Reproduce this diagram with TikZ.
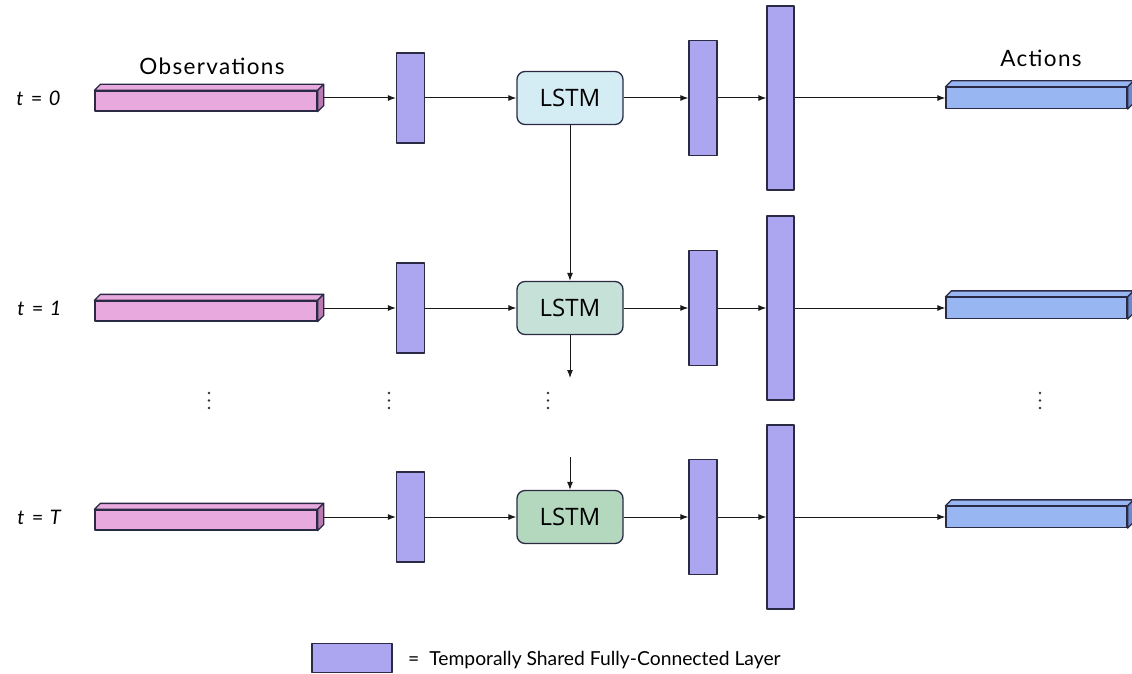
\documentclass[tikz,border=0pt]{standalone}
\usepackage{fontspec}
\setmainfont{Lato}
\newfontfamily\headfont{Lato}[LetterSpace=6]
\newfontfamily\lstmfont{Open Sans}
\usetikzlibrary{arrows.meta}

\definecolor{obsfill}{RGB}{232,170,222}
\definecolor{obsside}{RGB}{186,122,178}
\definecolor{fcfill}{RGB}{172,166,240}
\definecolor{actfill}{RGB}{152,182,242}
\definecolor{actside}{RGB}{108,138,208}
\definecolor{lstmA}{RGB}{212,236,244}
\definecolor{lstmB}{RGB}{198,226,216}
\definecolor{lstmC}{RGB}{180,216,190}
\definecolor{edgecol}{RGB}{42,42,68}

\tikzset{
  outline/.style={draw=edgecol, line width=1.3pt, line join=round},
  fc/.style={outline, fill=fcfill, minimum width=28pt, inner sep=0pt},
  lstm/.style={outline, rounded corners=8pt, minimum width=106pt, minimum height=53pt,
    inner sep=0pt, font=\lstmfont\fontsize{24}{24}\selectfont},
  obsbar/.style={outline, fill=obsfill, minimum width=222pt, minimum height=20pt, inner sep=0pt},
  actbar/.style={outline, fill=actfill, minimum width=181pt, minimum height=21pt, inner sep=0pt},
  flow/.style={-{Latex[length=8pt,width=6pt]}, line width=1pt, draw=black!90},
  steplabel/.style={font=\headfont\fontsize{20}{20}\selectfont},
  headlabel/.style={font=\headfont\fontsize{22.5}{22.5}\selectfont},
  dot/.style={fill=black!80, draw=none, circle, minimum size=2.8pt, inner sep=0pt}
}

\begin{document}
\begin{tikzpicture}[x=1pt,y=-1pt]
  \useasboundingbox[fill=white] (0,0) rectangle (1132,674);

  % time-step labels
  \node[steplabel] (l0) at (39,98)  {\textit{t} = \textit{0}};
  \node[steplabel] (l1) at (40,308) {\textit{t} = \textit{1}};
  \node[steplabel] (lT) at (40,517) {\textit{t} = \textit{T}};

  % headings
  \node[headlabel] (hobs) at (212,66) {Observations};
  \node[headlabel] (hact) at (1041,58) {Actions};

  % one row per time step: observation bar, FC, LSTM, FC, FC, action bar
  \foreach \r/\y/\lc in {0/98/lstmA, 1/308/lstmB, T/517/lstmC}{
    \node[obsbar] (o\r) at (206,\y+3) {};
    \node[fc, minimum height=90pt]  (a\r) at (410.5,\y) {};
    \node[lstm, fill=\lc] (m\r) at (570,\y) {LSTM};
    \node[fc, minimum height=115pt] (b\r) at (703,\y) {};
    \node[fc, minimum height=184pt, minimum width=27pt] (c\r) at (780.5,\y) {};
    \node[actbar] (p\r) at (1036.5,\y) {};
    % 3-D faces of the bars
    \draw[outline, fill=obsfill] (o\r.north west) -- ++(6,-6) -- ([shift={(6,-6)}]o\r.north east) -- (o\r.north east) -- cycle;
    \draw[outline, fill=obsside] (o\r.north east) -- ++(6,-6) -- ([shift={(6,-6)}]o\r.south east) -- (o\r.south east) -- cycle;
    \draw[outline, fill=actfill] (p\r.north west) -- ++(6,-6) -- ([shift={(6,-6)}]p\r.north east) -- (p\r.north east) -- cycle;
    \draw[outline, fill=actside] (p\r.north east) -- ++(6,-6) -- ([shift={(6,-6)}]p\r.south east) -- (p\r.south east) -- cycle;
    % forward connections
    \draw[flow] ([shift={(6,-3)}]o\r.east) -- (a\r.west);
    \draw[flow] (a\r.east) -- (m\r.west);
    \draw[flow] (m\r.east) -- (b\r.west);
    \draw[flow] (b\r.east) -- (c\r.west);
    \draw[flow] (c\r.east) -- (p\r.west);
  }

  % recurrent connections
  \coordinate (down1) at (570,378);
  \coordinate (upT) at (570,457);
  \draw[flow] (m0.south) -- (m1.north);
  \draw[flow] (m1.south) -- (down1);
  \draw[flow] (upT) -- (mT.north);

  % elided time steps (vertical ellipses)
  \foreach \x [count=\i] in {209,389,548,1040}{
    \node[dot] (e\i a) at (\x,393) {};
    \node[dot] (e\i b) at (\x,400.5) {};
    \node[dot] (e\i c) at (\x,408) {};
  }

  % legend
  \node[fc, minimum width=80pt, minimum height=29pt] (key) at (352,658) {};
  \node[anchor=west, font=\fontsize{19.3}{19.3}\selectfont, inner sep=0pt] (keytext) at (408,660)
    {=\ \ Temporally Shared Fully-Connected Layer};
\end{tikzpicture}
\end{document}
